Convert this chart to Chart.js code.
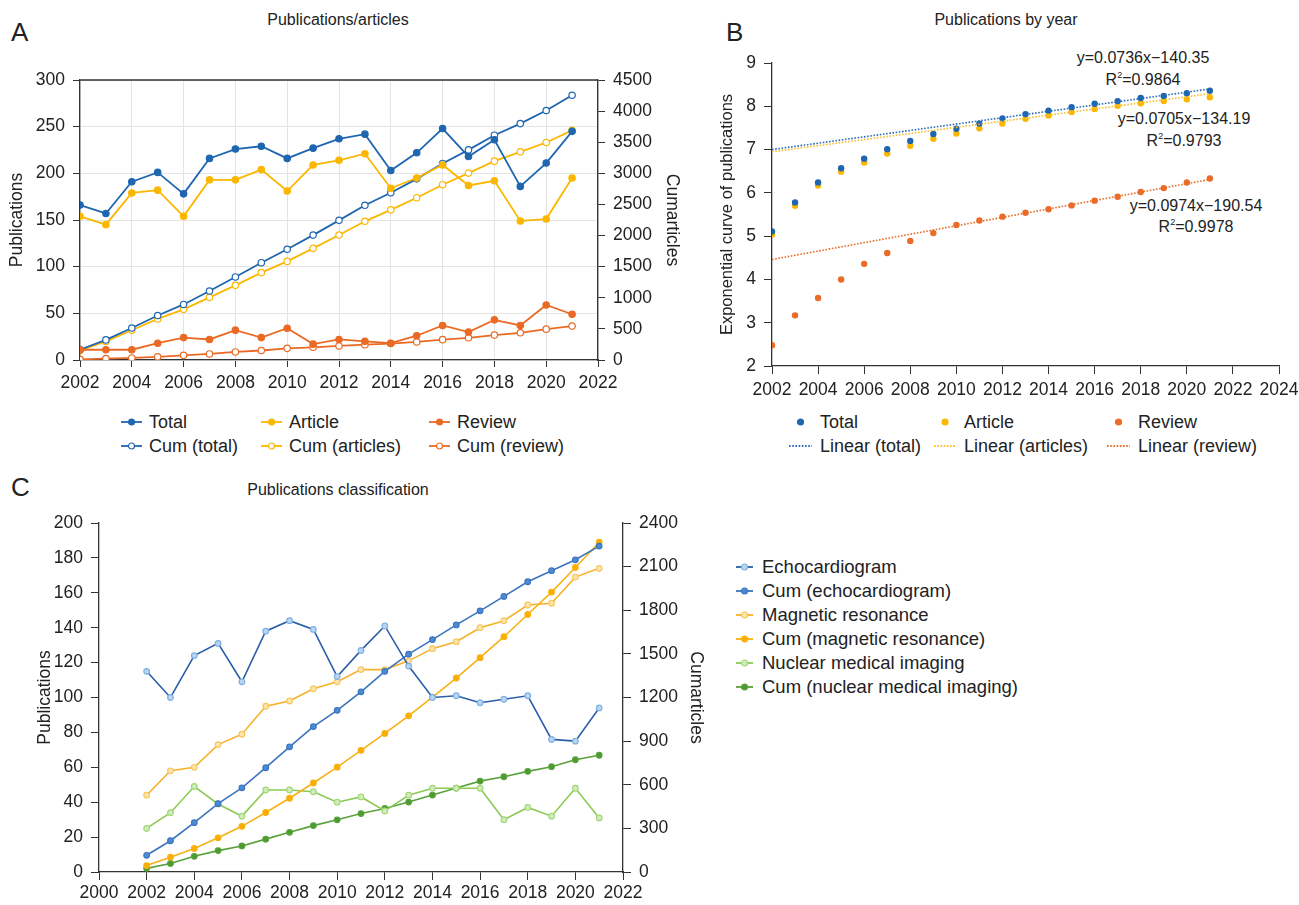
<!DOCTYPE html>
<html>
<head>
<meta charset="utf-8">
<script src="https://cdn.jsdelivr.net/npm/chart.js@4.4.0/dist/chart.umd.min.js"></script>
<style>
  html, body { margin: 0; padding: 0; background: #fff; overflow: hidden; }
  body { width: 1299px; height: 905px; position: relative; font-family: "Liberation Sans", Arial, sans-serif; color: #222; }
  canvas { position: absolute; }
  .letter { position: absolute; font-size: 26px; line-height: 30px; }
  .title { position: absolute; font-size: 16px; line-height: 20px; transform: translateX(-50%); white-space: nowrap; }
  .leg { position: absolute; font-size: 18px; line-height: 22px; display: flex; align-items: center; white-space: nowrap; }
  .leg.big { font-size: 18.5px; }
  .note { position: absolute; font-size: 16px; line-height: 20px; transform: translateX(-50%); white-space: nowrap; }
  .note sup { font-size: 9px; vertical-align: 7px; line-height: 0; }
</style>
</head>
<body>
<div class="letter" style="left:11px;top:17px">A</div>
<div class="letter" style="left:726px;top:17px">B</div>
<div class="letter" style="left:11px;top:472px">C</div>
<div class="title" style="left:338px;top:10px">Publications/articles</div>
<div class="title" style="left:1006px;top:10px">Publications by year</div>
<div class="title" style="left:338px;top:480px">Publications classification</div>

<div class="note" style="left:1143px;top:48px">y=0.0736x−140.35</div>
<div class="note" style="left:1143px;top:70px">R<sup>2</sup>=0.9864</div>
<div class="note" style="left:1184px;top:109px">y=0.0705x−134.19</div>
<div class="note" style="left:1184px;top:131px">R<sup>2</sup>=0.9793</div>
<div class="note" style="left:1196px;top:196px">y=0.0974x−190.54</div>
<div class="note" style="left:1196px;top:217px">R<sup>2</sup>=0.9978</div>

<canvas id="chartA" width="700" height="340" style="left:0;top:60px"></canvas>
<canvas id="chartB" width="594" height="360" style="left:705px;top:40px"></canvas>
<canvas id="chartC" width="720" height="405" style="left:0;top:500px"></canvas>

<script>
// years shared by every series
var years = [2002, 2003, 2004, 2005, 2006, 2007, 2008, 2009, 2010, 2011,
             2012, 2013, 2014, 2015, 2016, 2017, 2018, 2019, 2020, 2021];

// panel A
var totalPubs   = [166, 157, 191, 201, 178, 216, 226, 229, 216, 227, 237, 242, 203, 222, 248, 218, 236, 186, 211, 245];
var articlePubs = [154, 145, 179, 182, 154, 193, 193, 204, 181, 209, 214, 221, 184, 195, 209, 187, 192, 149, 151, 195];
var reviewPubs  = [11, 11, 11, 18, 24, 22, 32, 24, 34, 17, 22, 20, 18, 26, 37, 30, 43, 37, 59, 49];
var cumTotal    = [166, 323, 514, 715, 893, 1109, 1335, 1564, 1780, 2007, 2244, 2486, 2689, 2911, 3159, 3377, 3613, 3799, 4010, 4255];
var cumArticles = [154, 299, 478, 660, 814, 1007, 1200, 1404, 1585, 1794, 2008, 2229, 2413, 2608, 2817, 3004, 3196, 3345, 3496, 3691];
var cumReview   = [11, 22, 33, 51, 75, 97, 129, 153, 187, 204, 226, 246, 264, 290, 327, 357, 400, 437, 496, 545];

// panel B
var lnTotal   = [5.11, 5.78, 6.24, 6.57, 6.79, 7.01, 7.20, 7.36, 7.48, 7.60, 7.72, 7.82, 7.90, 7.98, 8.06, 8.12, 8.19, 8.24, 8.30, 8.36];
var lnArticle = [5.04, 5.70, 6.17, 6.49, 6.70, 6.91, 7.09, 7.25, 7.37, 7.49, 7.60, 7.71, 7.79, 7.87, 7.94, 8.01, 8.07, 8.12, 8.16, 8.21];
var lnReview  = [2.48, 3.17, 3.57, 4.00, 4.36, 4.61, 4.89, 5.07, 5.26, 5.36, 5.45, 5.54, 5.62, 5.71, 5.82, 5.91, 6.02, 6.11, 6.24, 6.33];
var trendYears   = [2002, 2021];
var trendTotal   = [7.00, 8.40];
var trendArticle = [6.95, 8.29];
var trendReview  = [4.46, 6.31];

// panel C
var echo       = [115, 100, 124, 131, 109, 138, 144, 139, 112, 127, 141, 118, 100, 101, 97, 99, 101, 76, 75, 94];
var cumEcho    = [115, 215, 339, 470, 579, 717, 861, 1000, 1112, 1239, 1380, 1498, 1598, 1699, 1796, 1895, 1996, 2072, 2147, 2241];
var mri        = [44, 58, 60, 73, 79, 95, 98, 105, 109, 116, 116, 121, 128, 132, 140, 144, 153, 154, 169, 174];
var cumMri     = [44, 102, 162, 235, 314, 409, 507, 612, 721, 837, 953, 1074, 1202, 1334, 1474, 1618, 1771, 1925, 2094, 2268];
var nuclear    = [25, 34, 49, 39, 32, 47, 47, 46, 40, 43, 35, 44, 48, 48, 48, 30, 37, 32, 48, 31];
var cumNuclear = [25, 59, 108, 147, 179, 226, 273, 319, 359, 402, 437, 481, 529, 577, 625, 655, 692, 724, 772, 803];

var BLUE = '#1f66b0', GOLD = '#fbb700', ORANGE = '#ea6a25', AXIS = '#333';

Chart.defaults.font.family = '"Liberation Sans", Arial, sans-serif';
Chart.defaults.font.size = 17.5;
Chart.defaults.color = '#222';

function pts(xs, ys) {
  return xs.map(function (x, i) { return { x: x, y: ys[i] }; });
}
function plain(v) { return String(v); }
function fixWidth(w) {
  return function (s) { s.width = w; s.paddingTop = 0; s.paddingBottom = 0; };
}
function fixHeight(h) {
  return function (s) { s.height = h; s.paddingLeft = 0; s.paddingRight = 0; };
}
function lineSet(label, data, axis, line, dotBorder, dotFill, r, w) {
  return {
    label: label, data: data, yAxisID: axis,
    borderColor: line, backgroundColor: dotFill,
    pointBackgroundColor: dotFill, pointBorderColor: dotBorder,
    pointRadius: r, pointBorderWidth: 1.2, borderWidth: w, tension: 0
  };
}
function xAxis(min, max, h, tickLen, pad, gridColor) {
  return {
    type: 'linear', min: min, max: max, afterFit: fixHeight(h),
    ticks: { stepSize: 2, callback: plain, padding: pad, maxRotation: 0, autoSkip: false },
    grid: { display: true, drawOnChartArea: !!gridColor, color: gridColor || 'transparent', tickColor: AXIS, tickLength: tickLen },
    border: { color: AXIS, width: 1.3 }
  };
}
function yAxis(pos, min, max, step, w, tickLen, title, titlePad, gridColor, titleSize) {
  return {
    position: pos, min: min, max: max, afterFit: fixWidth(w),
    ticks: { stepSize: step, padding: 8, callback: plain },
    grid: { display: true, drawOnChartArea: !!gridColor, color: gridColor || 'transparent', tickColor: AXIS, tickLength: tickLen },
    border: { color: AXIS, width: 1.3 },
    title: { display: true, text: title, padding: { top: titlePad, bottom: 0 }, font: { size: titleSize || 17.5 } }
  };
}
var topBorder = {
  id: 'topBorder',
  afterDraw: function (chart) {
    var a = chart.chartArea, c = chart.ctx;
    c.save();
    c.strokeStyle = AXIS; c.lineWidth = 1.3;
    c.beginPath(); c.moveTo(a.left, a.top); c.lineTo(a.right, a.top); c.stroke();
    c.restore();
  }
};
var base = {
  responsive: false, animation: false,
  plugins: { legend: { display: false }, tooltip: { enabled: false } }
};

// ---- A ----
new Chart(document.getElementById('chartA'), {
  type: 'line',
  data: {
    datasets: [
      lineSet('Total', pts(years, totalPubs), 'y', BLUE, BLUE, BLUE, 3.2, 1.8),
      lineSet('Article', pts(years, articlePubs), 'y', GOLD, GOLD, GOLD, 3.2, 1.8),
      lineSet('Review', pts(years, reviewPubs), 'y', ORANGE, ORANGE, ORANGE, 3.2, 1.8),
      lineSet('Cum (total)', pts(years, cumTotal), 'y2', BLUE, BLUE, '#fff', 3.2, 1.8),
      lineSet('Cum (articles)', pts(years, cumArticles), 'y2', GOLD, GOLD, '#fff', 3.2, 1.8),
      lineSet('Cum (review)', pts(years, cumReview), 'y2', ORANGE, ORANGE, '#fff', 3.2, 1.8)
    ]
  },
  options: Object.assign({}, base, {
    layout: { padding: { top: 20, left: 0, right: 0, bottom: 0 } },
    scales: {
      x: xAxis(2002, 2022, 40, 7, 6, '#e4e4e4'),
      y: yAxis('left', 0, 300, 50, 80, 7, 'Publications', 7, '#e4e4e4'),
      y2: yAxis('right', 0, 4500, 500, 102, 7, 'Cumarticles', 18, null)
    }
  }),
  plugins: [topBorder]
});

// ---- B ----
function trendSet(label, ys, color) {
  return {
    type: 'line', label: label, data: pts(trendYears, ys), showLine: true,
    borderColor: color, borderWidth: 1.6, borderDash: [1.6, 1.6], pointRadius: 0, tension: 0
  };
}
function dotSet(label, ys, color) {
  return { label: label, data: pts(years, ys), backgroundColor: color, borderColor: color, pointRadius: 3.2, pointBorderWidth: 0 };
}
new Chart(document.getElementById('chartB'), {
  type: 'scatter',
  data: {
    datasets: [
      trendSet('Linear (total)', trendTotal, '#2a6dbc'),
      trendSet('Linear (articles)', trendArticle, '#fbbe2c'),
      trendSet('Linear (review)', trendReview, ORANGE),
      dotSet('Total', lnTotal, BLUE),
      dotSet('Article', lnArticle, GOLD),
      dotSet('Review', lnReview, '#eb6b28')
    ]
  },
  options: Object.assign({}, base, {
    layout: { padding: { top: 23, left: 0, right: 20, bottom: 0 } },
    scales: {
      x: xAxis(2002, 2024, 34, 8, 6, null),
      y: yAxis('left', 2, 9, 1, 67, 8, 'Exponential curve of publications', 13, null, 16.5)
    }
  })
});

// ---- C ----
var C = {
  echoLine: '#2b5ea8', echoDot: '#7fb1e2', echoFill: '#b8d6f2',
  cumEcho: '#3b74bf', cumEchoDot: '#4a8bd4',
  mriLine: '#f7b02a', mriDot: '#f8c65e', mriFill: '#fde6ad',
  cumMri: '#f8b112', cumMriDot: '#f9ae00',
  nucLine: '#8bca55', nucDot: '#a3d77a', nucFill: '#d2ecbb',
  cumNuc: '#58a23a', cumNucDot: '#4e9a32'
};
new Chart(document.getElementById('chartC'), {
  type: 'line',
  data: {
    datasets: [
      lineSet('Echocardiogram', pts(years, echo), 'y', C.echoLine, C.echoDot, C.echoFill, 2.8, 1.6),
      lineSet('Cum (echocardiogram)', pts(years, cumEcho), 'y2', C.cumEcho, C.cumEcho, C.cumEchoDot, 2.8, 1.6),
      lineSet('Magnetic resonance', pts(years, mri), 'y', C.mriLine, C.mriDot, C.mriFill, 2.8, 1.6),
      lineSet('Cum (magnetic resonance)', pts(years, cumMri), 'y2', C.cumMri, C.cumMri, C.cumMriDot, 2.8, 1.6),
      lineSet('Nuclear medical imaging', pts(years, nuclear), 'y', C.nucLine, C.nucDot, C.nucFill, 2.8, 1.6),
      lineSet('Cum (nuclear medical imaging)', pts(years, cumNuclear), 'y2', C.cumNuc, C.cumNuc, C.cumNucDot, 2.8, 1.6)
    ]
  },
  options: Object.assign({}, base, {
    layout: { padding: { top: 23, left: 0, right: 0, bottom: 0 } },
    scales: {
      x: xAxis(2000, 2022, 33, 8, 3, null),
      y: yAxis('left', 0, 200, 20, 99, 8, 'Publications', 35, null),
      y2: yAxis('right', 0, 2400, 300, 97, 8, 'Cumarticles', 14, null)
    }
  })
});

// ---- legends (html) ----
function marker(w, line, dash, dotStroke, dotFill, gap) {
  var s = '<svg width="' + w + '" height="10" style="margin-right:' + (gap || 7) + 'px;flex:none">';
  if (line) {
    s += '<line x1="0" y1="5" x2="' + w + '" y2="5" stroke="' + line + '" stroke-width="1.8"' +
         (dash ? ' stroke-dasharray="1.6,1.6"' : '') + '/>';
  }
  if (dotStroke) {
    s += '<circle cx="' + (w / 2) + '" cy="5" r="3" fill="' + dotFill + '" stroke="' + dotStroke + '" stroke-width="1.2"/>';
  }
  return s + '</svg>';
}
function addLegend(items, cls) {
  items.forEach(function (it) {
    var d = document.createElement('div');
    d.className = 'leg' + (cls ? ' ' + cls : '');
    d.style.left = it[0] + 'px';
    d.style.top = (it[1] - 11) + 'px';
    d.innerHTML = it[3] + '<span>' + it[2] + '</span>';
    document.body.appendChild(d);
  });
}
addLegend([
  [121, 422, 'Total', marker(21, BLUE, false, BLUE, BLUE)],
  [261, 422, 'Article', marker(21, GOLD, false, GOLD, GOLD)],
  [429, 422, 'Review', marker(21, ORANGE, false, ORANGE, ORANGE)],
  [121, 446, 'Cum (total)', marker(21, BLUE, false, BLUE, '#fff')],
  [261, 446, 'Cum (articles)', marker(21, GOLD, false, GOLD, '#fff')],
  [429, 446, 'Cum (review)', marker(21, ORANGE, false, ORANGE, '#fff')],

  [789, 422, 'Total', marker(23, null, false, BLUE, BLUE, 8)],
  [934, 422, 'Article', marker(22, null, false, GOLD, GOLD, 8)],
  [1107, 422, 'Review', marker(23, null, false, '#eb6b28', '#eb6b28', 8)],
  [789, 446, 'Linear (total)', marker(23, '#2a6dbc', true, null, null, 8)],
  [934, 446, 'Linear (articles)', marker(22, '#fbbe2c', true, null, null, 8)],
  [1107, 446, 'Linear (review)', marker(23, ORANGE, true, null, null, 8)]
]);
addLegend([
  [736, 567, 'Echocardiogram', marker(17, C.echoLine, false, C.echoDot, C.echoFill, 9)],
  [736, 591, 'Cum (echocardiogram)', marker(17, C.cumEcho, false, C.cumEcho, C.cumEchoDot, 9)],
  [736, 615, 'Magnetic resonance', marker(17, C.mriLine, false, C.mriDot, C.mriFill, 9)],
  [736, 639, 'Cum (magnetic resonance)', marker(17, C.cumMri, false, C.cumMri, C.cumMriDot, 9)],
  [736, 663, 'Nuclear medical imaging', marker(17, C.nucLine, false, C.nucDot, C.nucFill, 9)],
  [736, 687, 'Cum (nuclear medical imaging)', marker(17, C.cumNuc, false, C.cumNuc, C.cumNucDot, 9)]
], 'big');
</script>
</body>
</html>
